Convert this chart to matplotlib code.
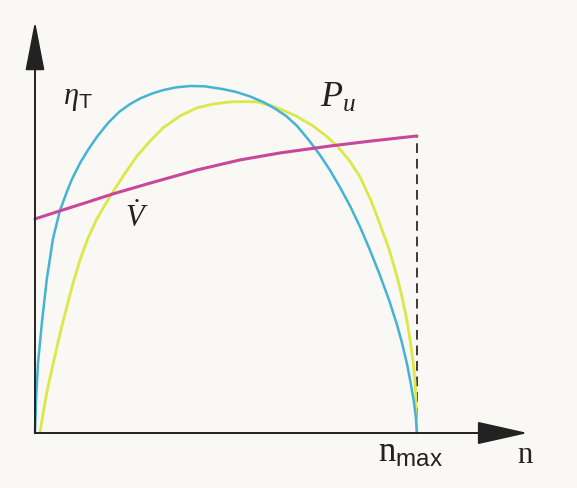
import numpy as np
import matplotlib
matplotlib.use("Agg")
import matplotlib.pyplot as plt

plt.rcParams['mathtext.fontset'] = 'custom'
plt.rcParams['mathtext.rm'] = 'Liberation Serif'
plt.rcParams['mathtext.it'] = 'Liberation Serif:italic'
plt.rcParams['mathtext.sf'] = 'Liberation Sans'

# speed n as a fraction of n_max, curves normalised to the peak of eta_T
n_eta = [0.000, 0.003, 0.008, 0.018, 0.031, 0.047, 0.065, 0.084, 0.097, 0.118, 0.139,
         0.162, 0.191, 0.220, 0.249, 0.277, 0.306, 0.335, 0.369, 0.406, 0.445, 0.492,
         0.526, 0.563, 0.597, 0.628, 0.657, 0.686, 0.717, 0.746, 0.772, 0.798, 0.825,
         0.851, 0.877, 0.903, 0.927, 0.948, 0.961, 0.974, 0.984, 0.992, 0.997, 1.000]
eta = [0.000, 0.101, 0.202, 0.317, 0.444, 0.559, 0.640, 0.697, 0.732, 0.778, 0.816,
       0.853, 0.893, 0.925, 0.948, 0.965, 0.978, 0.988, 0.996, 1.000, 0.999, 0.991,
       0.983, 0.970, 0.954, 0.935, 0.914, 0.885, 0.844, 0.801, 0.758, 0.709, 0.654,
       0.594, 0.527, 0.455, 0.383, 0.311, 0.259, 0.199, 0.141, 0.089, 0.046, 0.000]

n_pu = [0.013, 0.021, 0.031, 0.045, 0.058, 0.071, 0.084, 0.099, 0.118, 0.139, 0.162,
        0.183, 0.204, 0.236, 0.267, 0.301, 0.335, 0.380, 0.424, 0.466, 0.510, 0.550,
        0.581, 0.615, 0.641, 0.683, 0.728, 0.759, 0.791, 0.822, 0.851, 0.880, 0.903,
        0.927, 0.948, 0.961, 0.974, 0.982, 0.990, 0.995, 0.997, 1.000]
pu = [0.000, 0.055, 0.118, 0.187, 0.251, 0.311, 0.366, 0.429, 0.499, 0.562, 0.617,
      0.657, 0.695, 0.749, 0.798, 0.841, 0.879, 0.914, 0.937, 0.948, 0.954, 0.955,
      0.954, 0.945, 0.934, 0.914, 0.885, 0.859, 0.827, 0.787, 0.738, 0.669, 0.602,
      0.530, 0.450, 0.392, 0.323, 0.268, 0.205, 0.147, 0.104, 0.000]

n_v = [0.000, 0.065, 0.131, 0.204, 0.301, 0.424, 0.537, 0.641, 0.772, 0.877, 1.000]
vdot = [0.617, 0.640, 0.663, 0.689, 0.720, 0.758, 0.787, 0.807, 0.827, 0.841, 0.856]

n_max = 1.0

bg = '#f9f8f4'
ink = '#222222'

fig = plt.figure(figsize=(5.77, 4.89), dpi=100, facecolor=bg)
ax = fig.add_axes([0, 0, 1, 1])
ax.set_facecolor(bg)
ax.set_xlim(-0.0916, 1.419)
ax.set_ylim(-0.1585, 1.2507)
ax.axis('off')

# axes with arrow heads
ax.annotate('', xy=(1.29, 0), xytext=(0, 0),
            arrowprops=dict(arrowstyle='-|>,head_length=1.6,head_width=0.36',
                            mutation_scale=20, color=ink, lw=1.4,
                            shrinkA=0, shrinkB=0))
ax.annotate('', xy=(0, 1.187), xytext=(0, 0),
            arrowprops=dict(arrowstyle='-|>,head_length=1.55,head_width=0.3',
                            mutation_scale=20, color=ink, lw=1.4,
                            shrinkA=0, shrinkB=0))

ax.plot([n_max, n_max], [0, vdot[-1]], color='#3a3a3a', lw=1.4, ls=(0, (5, 3)))

style = dict(solid_capstyle='round', solid_joinstyle='round')
ax.plot(n_pu, pu, color='#dce748', lw=2.0, **style)
ax.plot(n_eta, eta, color='#45b3d3', lw=1.8, **style)
ax.plot(n_v, vdot, color='#c8479a', lw=2.2, **style)

ax.text(0.073, 0.951, r'$\eta_{\mathsf{T}}$', fontsize=22, color=ink)
ax.text(0.746, 0.942, r'$P_u$', fontsize=26, color=ink)
ax.text(0.236, 0.597, r'$\dot{V}$', fontsize=22, color=ink)
ax.text(0.898, -0.081, r'$\mathrm{n}_{\mathsf{max}}$', fontsize=25, color=ink)
ax.text(1.262, -0.084, r'$\mathrm{n}$', fontsize=22, color=ink)

fig.savefig('out.png', dpi=100, facecolor=fig.get_facecolor())
